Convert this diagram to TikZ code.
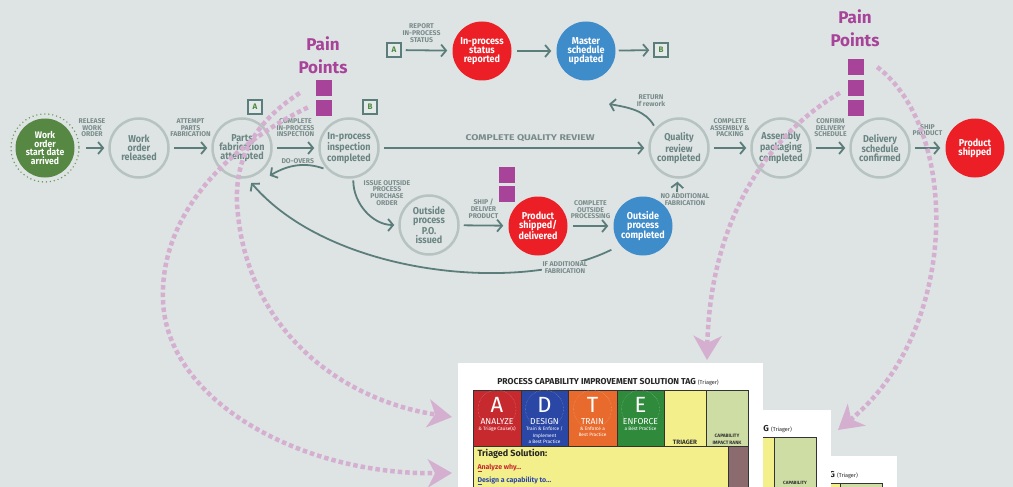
\documentclass[tikz,border=0pt]{standalone}
\usepackage{fontspec}
\setmainfont{Fira Sans}
\newfontfamily\condfont[FakeStretch=0.9]{Fira Sans}
\newfontfamily\widefont[FakeStretch=1.25]{Fira Sans}
\usepackage{tikz}
\usetikzlibrary{arrows.meta}
\usetikzlibrary{positioning}

\definecolor{bg}{HTML}{DEE4E4}
\definecolor{ringgray}{HTML}{B7C3C0}
\definecolor{nodetext}{HTML}{6B8582}
\definecolor{arrowcol}{HTML}{5C7E7B}
\definecolor{lbltext}{HTML}{798C8A}
\definecolor{startgreen}{HTML}{568843}
\definecolor{ringgreen}{HTML}{6C9A5A}
\definecolor{hotred}{HTML}{EC1F26}
\definecolor{hotblue}{HTML}{3F8CCB}
\definecolor{boxfill}{HTML}{E4EAE9}
\definecolor{boxgreen}{HTML}{4E8A3E}
\definecolor{painpurple}{HTML}{A74399}
\definecolor{paindots}{HTML}{D5AFD0}
\definecolor{tagred}{HTML}{C62A2F}
\definecolor{tagblue}{HTML}{2B47A6}
\definecolor{tagorange}{HTML}{E86A2C}
\definecolor{taggreen}{HTML}{2F8A3C}
\definecolor{tagyellow}{HTML}{F3F08B}
\definecolor{taglime}{HTML}{CEDDA3}
\definecolor{tagbrown}{HTML}{8C6B6E}

% the part of a tag that shows behind the one in front of it
\newcommand{\tagedge}[1]{%
  \fill[white] (0,0) rectangle (305,140);
  \node[anchor=east,inner sep=0pt,font=\bfseries\fontsize{8.6}{9}\selectfont,text=black!85] (#1t) at (266,19)
    {G {\mdseries\fontsize{5.5}{5}\selectfont(Triager)}};
  \filldraw[fill=tagyellow,draw=black!80,line width=0.8pt] (206,27) rectangle (248,83);
  \filldraw[fill=taglime,draw=black!80,line width=0.8pt] (248,27) rectangle (290,83);
}

\begin{document}
\begin{tikzpicture}
  [x=1pt,y=-1pt,
   stepnode/.style={circle,draw=ringgray,line width=2.5pt,minimum size=59pt,inner sep=0pt,
     align=center,text=nodetext,font=\condfont\bfseries\fontsize{10}{9}\selectfont},
   hotnode/.style={stepnode,draw=none,fill=#1,text=white},
   flow/.style={draw=arrowcol,line width=1.8pt,-{Straight Barb[length=5pt,width=12pt]},
     shorten >=4pt,shorten <=4pt},
   lbl/.style={text=lbltext,font=\bfseries\fontsize{6.9}{6.8}\selectfont,align=center,inner sep=1pt},
   refbox/.style={draw=arrowcol,line width=1.5pt,fill=boxfill,minimum size=14pt,inner sep=0pt,
     text=boxgreen,font=\bfseries\fontsize{8}{8}\selectfont},
   painsq/.style={fill=painpurple,minimum size=16pt,inner sep=0pt},
   paintext/.style={text=painpurple,align=center,font=\bfseries\fontsize{17}{23}\selectfont},
   painpath/.style={draw=paindots,line width=4.5pt,dash pattern=on 4.5pt off 3pt,
     -{Stealth[length=24pt,width=28pt,inset=7pt]}},
   tagcell/.style={draw=black!80,line width=0.8pt}]
  \fill[bg] (0,0) rectangle (1013,487);
  \useasboundingbox (0,0) rectangle (1013,487);

  % the three tags, back to front
  \begin{scope}
    \clip (0,0) rectangle (1013,487);
    \begin{scope}[shift={(592,456)}] \tagedge{c3} \end{scope}
    \begin{scope}[shift={(526,410)}]
      \tagedge{c2}
      \node[font=\bfseries\fontsize{4.6}{5}\selectfont,text=black!80] (c2cr) at (269,73) {CAPABILITY};
    \end{scope}
    \begin{scope}[shift={(458,363)}]
      \fill[white] (0,0) rectangle (305,140);
      \node[font=\bfseries\fontsize{8.6}{9}\selectfont,text=black!85] (c1t) at (150,19)
        {PROCESS CAPABILITY IMPROVEMENT SOLUTION TAG {\mdseries\fontsize{5.5}{5}\selectfont(Triager)}};
      \foreach \x/\w/\c/\l/\n/\s in {15/48/tagred/A/ANALYZE/{\& Triage Cause(s)},
          63/47/tagblue/D/DESIGN/{Train \& Enforce /\\Implement\\a Best Practice},
          110/49/tagorange/T/TRAIN/{\& Enforce a\\Best Practice},
          159/47/taggreen/E/ENFORCE/{a Best Practice}}{
        \filldraw[tagcell,fill=\c] (\x,27) rectangle ++(\w,56);
        \draw[white,opacity=0.45,densely dotted] (\x+\w/2,46) circle (19);
        \node[text=white,inner sep=0pt,font=\fontsize{22}{22}\selectfont] (c1l\l) at (\x+\w/2,42) {\l};
        \node[text=white,inner sep=0pt,font=\fontsize{8.6}{9}\selectfont] (c1w\l) at (\x+\w/2,59) {\n};
        \node[text=white!80,anchor=north,align=center,inner sep=0pt,
          font=\fontsize{4.8}{6.5}\selectfont] (c1s\l) at (\x+\w/2,63.5) {\s};
      }
      \filldraw[tagcell,fill=tagyellow] (206,27) rectangle (248,83);
      \filldraw[tagcell,fill=taglime] (248,27) rectangle (290,83);
      \node[inner sep=0pt,font=\bfseries\fontsize{6.3}{6}\selectfont,text=black!80] (c1tr) at (227,79) {TRIAGER};
      \node[inner sep=0pt,font=\bfseries\fontsize{4.8}{7}\selectfont,text=black!80,align=center] (c1cr)
        at (269,76.5) {CAPABILITY\\IMPACT RANK};
      \filldraw[tagcell,fill=tagyellow] (15,83) rectangle (270,150);
      \filldraw[tagcell,fill=tagbrown] (270,83) rectangle (290,150);
      \node[anchor=west,font=\bfseries\fontsize{9}{9}\selectfont,text=black!85] (c1ts) at (16,91)
        {Triaged Solution:};
      \node[anchor=west,font=\bfseries\fontsize{7}{7}\selectfont,text=tagred] (c1an) at (16,105)
        {\underline{A}nalyze why...};
      \node[anchor=west,font=\bfseries\fontsize{7}{7}\selectfont,text=tagblue] (c1de) at (16,118)
        {\underline{D}esign a capability to...};
    \end{scope}
  \end{scope}

  % main line
  \node[hotnode=startgreen,font=\condfont\bfseries\fontsize{9.5}{8.7}\selectfont] (n0) at (45,148)
    {Work\\order\\start date\\arrived};
  \draw[ringgreen,line width=1.6pt,line cap=round,dash pattern=on 0pt off 4pt] (n0) circle (34);
  \node[stepnode] (n1) at (139,148) {Work\\order\\released};
  \node[stepnode] (n2) at (242,148) {Parts\\fabrication\\attempted};
  \node[stepnode] (n3) at (349,148) {In-process\\inspection\\completed};
  \node[stepnode] (n5) at (679,148) {Quality\\review\\completed};
  \node[stepnode] (n6) at (781,148) {Assembly\\packaging\\completed};
  \node[stepnode] (n7) at (880,148) {Delivery\\schedule\\confirmed};
  \node[hotnode=hotred] (n8) at (975,148) {Product\\shipped};

  % outside process line
  \node[stepnode] (po) at (429,225) {Outside\\process\\P.O.\\issued};
  \node[hotnode=hotred] (psd) at (538,226) {Product\\shipped/\\delivered};
  \node[hotnode=hotblue] (opc) at (643,226) {Outside\\process\\completed};

  % status line
  \node[refbox] (bxA1) at (394,50) {A};
  \node[hotnode=hotred] (irs) at (482,51) {In-process\\status\\reported};
  \node[hotnode=hotblue] (msu) at (586,51) {Master\\schedule\\updated};
  \node[refbox] (bxB1) at (661,50) {B};
  \node[refbox] (bxA2) at (255,107) {A};
  \node[refbox] (bxB2) at (370,107) {B};

  \draw[flow,shorten <=10pt] (n0) -- node[lbl,above=9pt] (l0) {RELEASE\\WORK\\ORDER} (n1);
  \draw[flow] (n1) -- node[lbl,above=9pt] (l1) {ATTEMPT\\PARTS\\FABRICATION} (n2);
  \draw[flow] (n2) -- node[lbl,above=9pt] (l2) {COMPLETE\\IN-PROCESS\\INSPECTION} (n3);
  \draw[flow] (n3) -- node[lbl,above=4pt,pos=0.56,font=\widefont\bfseries\fontsize{8.3}{8}\selectfont] (l3)
    {COMPLETE QUALITY REVIEW} (n5);
  \draw[flow] (n5) -- node[lbl,above=9pt] (l5) {COMPLETE\\ASSEMBLY \&\\PACKING} (n6);
  \draw[flow] (n6) -- node[lbl,above=9pt] (l6) {CONFIRM\\DELIVERY\\SCHEDULE} (n7);
  \draw[flow] (n7) -- node[lbl,above=10pt] (l7) {SHIP\\PRODUCT} (n8);

  \draw[flow] (bxA1) -- node[lbl,above=6pt,pos=0.4] (l9) {REPORT\\IN-PROCESS\\STATUS} (irs);
  \draw[flow] (irs) -- (msu);
  \draw[flow,shorten <=2pt] (msu) -- (bxB1);

  \draw[flow] (po) -- node[lbl,above=5pt] (l10) {SHIP /\\DELIVER\\PRODUCT} (psd);
  \draw[flow] (psd) -- node[lbl,above=5pt] (l11) {COMPLETE\\OUTSIDE\\PROCESSING} (opc);

  \draw[flow,shorten >=0pt] (n3.-135) to[bend right=25] node[lbl,above=0pt] (l12) {DO-OVERS}
    ([shift={(6,6)}]n2.-45);
  \draw[flow,shorten <=2pt] (n3.-82) to[out=-90,in=180] (po);
  \node[lbl] (l13) at (387,193) {ISSUE OUTSIDE\\PROCESS\\PURCHASE\\ORDER};

  \coordinate (rw) at (609,104);
  \draw[flow,shorten <=3pt,shorten >=0pt] (n5.140) to[out=120,in=-10] (rw);
  \node[lbl] (l14) at (651,101) {RETURN\\If rework};
  \coordinate (naf) at (677,192);
  \draw[flow,shorten <=0pt,shorten >=3pt] (naf) -- (n5);
  \node[lbl] (l15) at (685,200) {NO ADDITIONAL\\FABRICATION};

  \draw[flow,shorten <=9pt,shorten >=6pt] (opc.220) .. controls (520,295) and (330,275) .. (n2.-80);
  \node[lbl,fill=bg] (l16) at (565,268) {IF ADDITIONAL\\FABRICATION};

  % pain points
  \node[paintext] (pp1) at (323,55) {Pain\\Points};
  \node[painsq] (sq1) at (324,88) {};
  \node[painsq,below=4pt of sq1] (sq2) {};
  \node[painsq] (sq3) at (507,175) {};
  \node[painsq,below=3pt of sq3] (sq4) {};
  \node[paintext] (pp2) at (855,28) {Pain\\Points};
  \node[painsq] (sq5) at (856,67) {};
  \node[painsq,below=4.5pt of sq5] (sq6) {};
  \node[painsq,below=4pt of sq6] (sq7) {};

  \coordinate (tipA) at (452,417);
  \coordinate (tipB) at (452,473);
  \coordinate (tipC) at (707,360);
  \coordinate (tipD) at (838,430);
  \draw[painpath] ([shift={(-16,5)}]sq1.west) .. controls (250,125) and (232,165) .. (238,215)
    .. controls (250,330) and (340,400) .. (tipA);
  \draw[painpath] ([shift={(-8,-1)}]sq2.west) .. controls (220,150) and (160,220) .. (163,300)
    .. controls (166,400) and (300,475) .. (tipB);
  \draw[painpath] ([shift={(-8,5)}]sq6.west) .. controls (760,140) and (710,230) .. (tipC);
  \draw[painpath] ([shift={(13,0)}]sq5.east) .. controls (960,130) and (960,330) .. (tipD);
\end{tikzpicture}
\end{document}
